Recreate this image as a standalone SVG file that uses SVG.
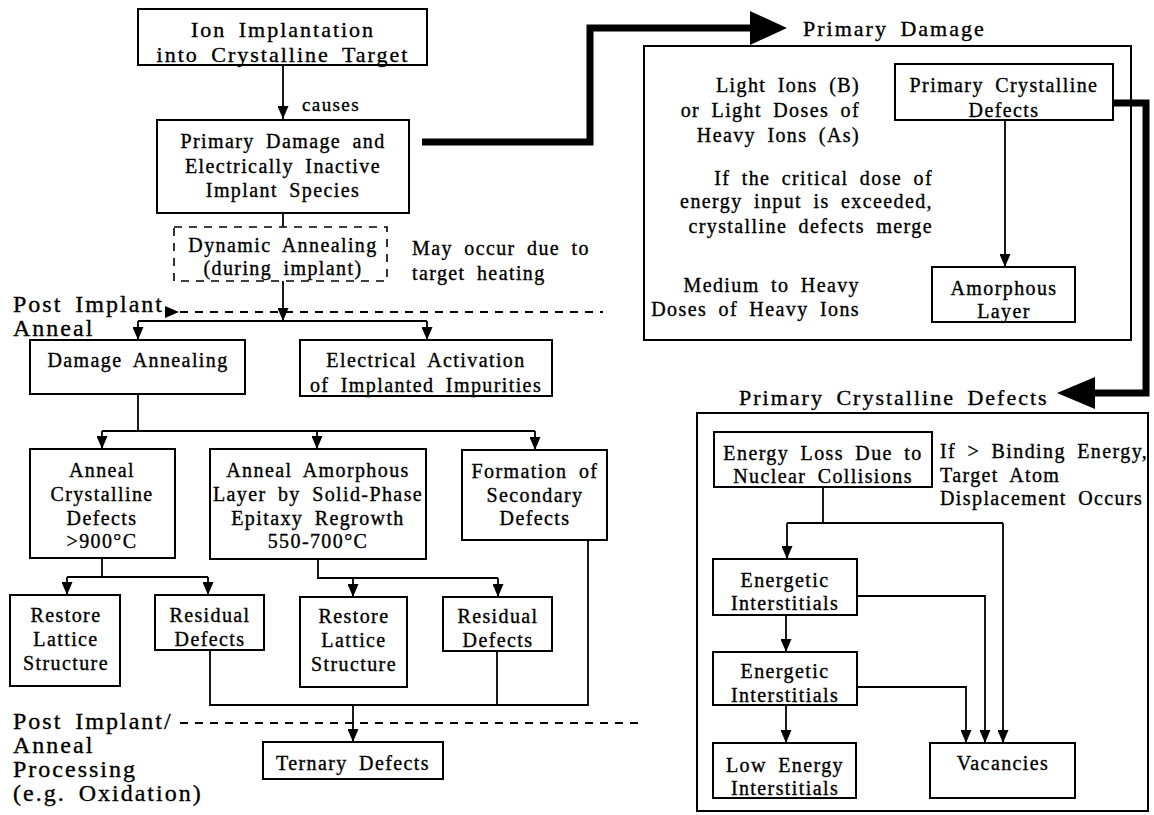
<svg xmlns="http://www.w3.org/2000/svg" width="1154" height="815" viewBox="0 0 1154 815">
<style>
text{font-family:"Liberation Serif","Times New Roman",serif;fill:#000;stroke:#000;stroke-width:0.35px;letter-spacing:1.4px;word-spacing:5px;font-size:20px}
.c{text-anchor:middle}
.e{text-anchor:end}
.big{font-size:22px;letter-spacing:2px}
.lab{font-size:24px;letter-spacing:2px}
.sm{font-size:19px}
rect.b{fill:#fff;stroke:#000;stroke-width:2}
rect.d{fill:#fff;stroke:#000;stroke-width:1.6;stroke-dasharray:8 7}
.ln{fill:none;stroke:#000;stroke-width:1.8}
.arr{fill:none;stroke:#000;stroke-width:1.8;marker-end:url(#ah)}
.dash{fill:none;stroke:#000;stroke-width:2;stroke-dasharray:8 7}
.thick{fill:none;stroke:#000;stroke-width:7}
</style>
<defs>
<marker id="ah" viewBox="0 0 13 11" refX="13" refY="5.5" markerWidth="13" markerHeight="11" orient="auto" markerUnits="userSpaceOnUse">
<path d="M0,0 L13,5.5 L0,11 z" fill="#000"/>
</marker>
</defs>
<rect width="1154" height="815" fill="#fff"/>

<g id="connectors">
<line class="arr" x1="283" y1="65" x2="283" y2="119"/>
<line class="ln" x1="283" y1="213" x2="283" y2="227"/>
<line class="arr" x1="283" y1="281" x2="283" y2="321"/>
<line class="ln" x1="138" y1="321" x2="427" y2="321"/>
<line class="arr" x1="138" y1="321" x2="138" y2="340"/>
<line class="arr" x1="427" y1="321" x2="427" y2="340"/>
<line class="dash" x1="180" y1="312" x2="603" y2="312"/>
<polygon points="165,306 179,312 165,318" fill="#000"/>
<line class="ln" x1="138" y1="394" x2="138" y2="431"/>
<line class="ln" x1="102" y1="431" x2="535" y2="431"/>
<line class="arr" x1="102" y1="431" x2="102" y2="449"/>
<line class="arr" x1="317" y1="431" x2="317" y2="449"/>
<line class="arr" x1="535" y1="431" x2="535" y2="450"/>
<polyline class="ln" points="102,558 102,577"/>
<line class="ln" x1="67" y1="577" x2="208" y2="577"/>
<line class="arr" x1="67" y1="577" x2="67" y2="595"/>
<line class="arr" x1="208" y1="577" x2="208" y2="595"/>
<polyline class="ln" points="318,559 318,578 498,578"/>
<line class="arr" x1="353" y1="578" x2="353" y2="597"/>
<line class="arr" x1="498" y1="578" x2="498" y2="597"/>
<polyline class="ln" points="210,650 210,705 588,705 588,540"/>
<line class="ln" x1="497" y1="651" x2="497" y2="705"/>
<line class="arr" x1="353" y1="705" x2="353" y2="742"/>
<line class="dash" x1="180" y1="723" x2="644" y2="723"/>
<polyline class="thick" points="422,142 590,142 590,28 752,28"/>
<polygon points="750,11 787,28 750,45" fill="#000"/>
<line class="arr" x1="1005" y1="120" x2="1005" y2="267"/>
<polyline class="thick" points="1113,103 1146,103 1146,393 1093,393"/>
<polygon points="1095,377 1057,393 1095,409" fill="#000"/>
<line class="ln" x1="823" y1="487" x2="823" y2="523"/>
<line class="ln" x1="787" y1="523" x2="1003" y2="523"/>
<line class="arr" x1="787" y1="523" x2="787" y2="559"/>
<line class="arr" x1="1003" y1="523" x2="1003" y2="743"/>
<polyline class="arr" points="857,596 985,596 985,743"/>
<line class="arr" x1="786" y1="615" x2="786" y2="652"/>
<polyline class="arr" points="857,687 966,687 966,743"/>
<line class="arr" x1="786" y1="705" x2="786" y2="743"/>
</g>

<g id="ion">
<rect class="b" x="138" y="9" width="289" height="56"/>
<text class="c big" x="283" y="37">Ion Implantation</text>
<text class="c big" x="283" y="62">into Crystalline Target</text>
</g>
<g id="causes"><text class="sm" x="302" y="111">causes</text></g>
<g id="primary-damage">
<rect class="b" x="157" y="120" width="252" height="93"/>
<text class="c" x="283" y="148">Primary Damage and</text>
<text class="c" x="283" y="173">Electrically Inactive</text>
<text class="c" x="283" y="197">Implant Species</text>
</g>
<g id="dynamic">
<rect class="d" x="174" y="227" width="213" height="54"/>
<text class="c" x="283" y="252">Dynamic Annealing</text>
<text class="c" x="283" y="275">(during implant)</text>
</g>
<g id="heating-note">
<text x="412" y="255">May occur due to</text>
<text x="412" y="280">target heating</text>
</g>
<g id="post-implant-label">
<text class="lab" x="13" y="312">Post Implant</text>
<text class="lab" x="13" y="336">Anneal</text>
</g>
<g id="damage-annealing">
<rect class="b" x="30" y="340" width="215" height="54"/>
<text class="c" x="138" y="367">Damage Annealing</text>
</g>
<g id="electrical">
<rect class="b" x="300" y="340" width="252" height="56"/>
<text class="c" x="426" y="367">Electrical Activation</text>
<text class="c" x="426" y="392">of Implanted Impurities</text>
</g>
<g id="anneal-crystalline">
<rect class="b" x="30" y="449" width="145" height="109"/>
<text class="c" x="102" y="477">Anneal</text>
<text class="c" x="102" y="501">Crystalline</text>
<text class="c" x="102" y="525">Defects</text>
<text class="c" x="102" y="548">&gt;900°C</text>
</g>
<g id="anneal-amorphous">
<rect class="b" x="210" y="449" width="216" height="110"/>
<text class="c" x="318" y="477">Anneal Amorphous</text>
<text class="c" x="318" y="501">Layer by Solid-Phase</text>
<text class="c" x="318" y="525">Epitaxy Regrowth</text>
<text class="c" x="318" y="548">550-700°C</text>
</g>
<g id="secondary">
<rect class="b" x="462" y="450" width="145" height="90"/>
<text class="c" x="535" y="478">Formation of</text>
<text class="c" x="535" y="502">Secondary</text>
<text class="c" x="535" y="525">Defects</text>
</g>
<g id="restore1">
<rect class="b" x="10" y="595" width="110" height="91"/>
<text class="c" x="66" y="622">Restore</text>
<text class="c" x="66" y="646">Lattice</text>
<text class="c" x="66" y="670">Structure</text>
</g>
<g id="residual1">
<rect class="b" x="155" y="595" width="109" height="55"/>
<text class="c" x="210" y="622">Residual</text>
<text class="c" x="210" y="646">Defects</text>
</g>
<g id="restore2">
<rect class="b" x="300" y="597" width="107" height="90"/>
<text class="c" x="354" y="623">Restore</text>
<text class="c" x="354" y="647">Lattice</text>
<text class="c" x="354" y="671">Structure</text>
</g>
<g id="residual2">
<rect class="b" x="443" y="597" width="109" height="54"/>
<text class="c" x="498" y="623">Residual</text>
<text class="c" x="498" y="647">Defects</text>
</g>
<g id="ternary">
<rect class="b" x="263" y="742" width="180" height="37"/>
<text class="c" x="353" y="770">Ternary Defects</text>
</g>
<g id="post-processing-label">
<text class="lab" x="13" y="729">Post Implant/</text>
<text class="lab" x="13" y="753">Anneal</text>
<text class="lab" x="13" y="777">Processing</text>
<text class="lab" x="13" y="801">(e.g. Oxidation)</text>
</g>

<g id="primary-damage-panel">
<text class="big" x="803" y="36">Primary Damage</text>
<rect x="644" y="46" width="487" height="294" fill="none" stroke="#000" stroke-width="2"/>
<text class="e" x="860" y="92">Light Ions (B)</text>
<text class="e" x="860" y="117">or Light Doses of</text>
<text class="e" x="860" y="142">Heavy Ions (As)</text>
<text class="e" x="933" y="185">If the critical dose of</text>
<text class="e" x="933" y="208">energy input is exceeded,</text>
<text class="e" x="933" y="233">crystalline defects merge</text>
<text class="e" x="860" y="292">Medium to Heavy</text>
<text class="e" x="860" y="316">Doses of Heavy Ions</text>
</g>
<g id="primary-crystalline">
<rect class="b" x="895" y="64" width="218" height="56"/>
<text class="c" x="1004" y="92">Primary Crystalline</text>
<text class="c" x="1004" y="117">Defects</text>
</g>
<g id="amorphous">
<rect class="b" x="932" y="267" width="143" height="55"/>
<text class="c" x="1004" y="295">Amorphous</text>
<text class="c" x="1004" y="318">Layer</text>
</g>

<g id="crystalline-panel">
<text class="big" x="739" y="405">Primary Crystalline Defects</text>
<rect x="697" y="413" width="451" height="398" fill="none" stroke="#000" stroke-width="2"/>
<text x="940" y="458">If &gt; Binding Energy,</text>
<text x="940" y="482">Target Atom</text>
<text x="940" y="505">Displacement Occurs</text>
</g>
<g id="energy-loss">
<rect class="b" x="714" y="432" width="218" height="55"/>
<text class="c" x="823" y="460">Energy Loss Due to</text>
<text class="c" x="823" y="483">Nuclear Collisions</text>
</g>
<g id="energetic1">
<rect class="b" x="713" y="559" width="144" height="56"/>
<text class="c" x="785" y="587">Energetic</text>
<text class="c" x="785" y="610">Interstitials</text>
</g>
<g id="energetic2">
<rect class="b" x="713" y="652" width="144" height="53"/>
<text class="c" x="785" y="678">Energetic</text>
<text class="c" x="785" y="702">Interstitials</text>
</g>
<g id="low-energy">
<rect class="b" x="713" y="743" width="143" height="55"/>
<text class="c" x="785" y="772">Low Energy</text>
<text class="c" x="785" y="795">Interstitials</text>
</g>
<g id="vacancies">
<rect class="b" x="930" y="743" width="145" height="55"/>
<text class="c" x="1003" y="770">Vacancies</text>
</g>
</svg>
